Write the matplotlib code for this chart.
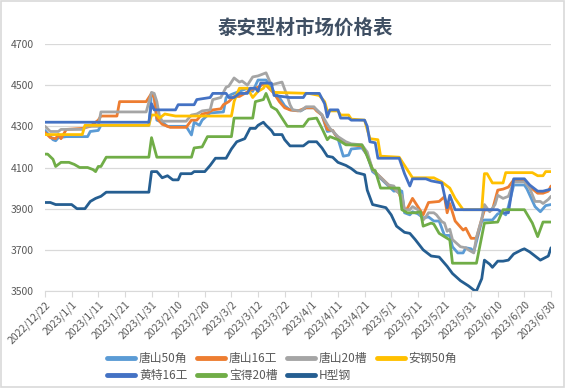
import matplotlib
matplotlib.use("Agg")
import matplotlib.pyplot as plt
import pandas as pd
from matplotlib.patches import Rectangle

plt.rcParams['font.family'] = ['Noto Sans CJK SC', 'DejaVu Sans']

start = pd.Timestamp('2022-12-22')
end = pd.Timestamp('2023-06-30')

# days counted from 2022/12/22, prices in yuan/ton
ts50_day = [0, 3, 4, 5, 8, 16, 17, 20, 21, 39, 40, 41, 42, 44, 46, 53, 55, 56, 58, 59,
            62, 67, 68, 70, 73, 76, 78, 80, 83, 85, 86, 88, 90, 92, 96, 98, 101, 102, 104, 106,
            108, 110, 112, 114, 115, 119, 121, 123, 125, 127, 129, 131, 133, 134, 135, 137, 138, 140, 142, 144,
            146, 148, 149, 150, 152, 153, 155, 157, 158, 160, 161, 164, 165, 168, 170, 172, 173, 174, 176, 180,
            181, 184, 186, 188, 190]
ts50_val = [4280, 4235, 4230, 4245, 4250, 4250, 4275, 4280, 4305, 4305, 4460, 4450, 4330, 4320, 4300, 4300, 4258, 4320, 4305, 4330,
            4365, 4370, 4440, 4455, 4470, 4485, 4470, 4525, 4525, 4490, 4465, 4440, 4400, 4380, 4375, 4390, 4390, 4380, 4355, 4275,
            4280, 4240, 4155, 4160, 4190, 4195, 4160, 4080, 4060, 4035, 4010, 3985, 3990, 3985, 3880, 3870, 3885, 3875, 3855, 3860,
            3840, 3840, 3805, 3770, 3770, 3715, 3685, 3685, 3710, 3705, 3690, 3840, 3845, 3845, 3875, 3880, 3870, 3910, 4015, 4015,
            3995, 3910, 3885, 3915, 3920]

ts16_day = [0, 2, 4, 5, 6, 8, 14, 17, 20, 21, 27, 28, 38, 40, 41, 42, 44, 47, 53, 55,
            57, 59, 61, 63, 66, 67, 69, 71, 73, 77, 80, 82, 83, 86, 88, 90, 92, 95, 98, 101,
            102, 104, 106, 108, 109, 111, 113, 115, 119, 121, 123, 125, 127, 129, 131, 133, 135, 136, 138, 140,
            142, 144, 148, 150, 151, 152, 154, 157, 158, 160, 162, 164, 165, 168, 170, 172, 174, 176, 180, 182,
            185, 187, 189, 190]
ts16_val = [4270, 4245, 4240, 4260, 4240, 4285, 4290, 4300, 4330, 4350, 4350, 4420, 4420, 4460, 4440, 4340, 4310, 4295, 4295, 4330,
            4330, 4360, 4365, 4380, 4385, 4405, 4420, 4445, 4445, 4475, 4490, 4505, 4500, 4460, 4420, 4390, 4380, 4375, 4390, 4390,
            4375, 4355, 4285, 4280, 4260, 4235, 4215, 4210, 4205, 4160, 4090, 4065, 4040, 4015, 4000, 3975, 3895, 3900, 3950, 3910,
            3870, 3930, 3935, 3958, 3880, 3925, 3840, 3796, 3805, 3756, 3756, 3850, 3894, 3894, 3990, 3995, 4005, 4040, 4040, 4007,
            3975, 3975, 3985, 4010]

ts20_day = [0, 2, 5, 6, 14, 16, 20, 21, 38, 40, 41, 42, 43, 44, 53, 55, 57, 59, 62, 63,
            66, 68, 69, 71, 73, 74, 76, 78, 80, 83, 85, 86, 89, 91, 92, 93, 96, 98, 101, 102,
            104, 106, 107, 110, 113, 115, 119, 121, 123, 125, 127, 129, 131, 132, 134, 135, 137, 138, 140, 142,
            143, 144, 146, 147, 149, 150, 151, 152, 153, 156, 158, 159, 161, 162, 164, 165, 167, 169, 170, 172,
            174, 176, 180, 182, 184, 186, 187, 189, 190]
ts20_val = [4300, 4275, 4275, 4285, 4285, 4300, 4300, 4370, 4370, 4465, 4460, 4420, 4350, 4325, 4325, 4355, 4360, 4375, 4380, 4430,
            4440, 4490, 4495, 4535, 4515, 4520, 4500, 4540, 4545, 4560, 4500, 4505, 4515, 4445, 4405, 4380, 4375, 4395, 4395, 4380,
            4355, 4310, 4290, 4250, 4225, 4215, 4210, 4175, 4090, 4065, 4040, 4015, 4010, 3985, 3965, 3895, 3895, 3910, 3895, 3845,
            3860, 3880, 3880, 3870, 3837, 3830, 3790, 3800, 3750, 3715, 3710, 3700, 3685, 3760, 3850, 3920, 3885, 3920, 3965, 3950,
            3960, 4030, 4030, 4000, 3935, 3935, 3925, 3945, 3960]

ag50_day = [0, 14, 15, 39, 40, 42, 43, 45, 49, 70, 71, 72, 73, 76, 78, 80, 82, 83, 86, 99,
            103, 105, 106, 110, 111, 114, 115, 120, 122, 125, 126, 133, 135, 138, 146, 149, 152, 154, 157, 164,
            165, 166, 168, 172, 173, 183, 185, 187, 188, 190]
ag50_val = [4260, 4260, 4305, 4305, 4355, 4355, 4340, 4360, 4350, 4350, 4420, 4455, 4485, 4485, 4440, 4470, 4485, 4505, 4465, 4460,
            4450, 4420, 4375, 4375, 4355, 4355, 4335, 4330, 4240, 4235, 4155, 4150, 4110, 4050, 4050, 4030, 4000, 3950, 3895, 3895,
            4070, 4070, 4025, 4025, 4075, 4075, 4060, 4060, 4080, 4080]

ht16_day = [0, 39, 40, 41, 49, 50, 56, 57, 62, 63, 68, 69, 71, 73, 76, 77, 79, 80, 81, 85,
            86, 92, 97, 98, 103, 105, 106, 107, 110, 111, 114, 115, 120, 121, 122, 124, 125, 133, 135, 137,
            138, 143, 145, 149, 151, 152, 154, 170, 172, 174, 176, 180, 182, 185, 187, 190]
ht16_val = [4320, 4320, 4410, 4380, 4380, 4405, 4405, 4430, 4440, 4460, 4460, 4440, 4440, 4460, 4460, 4485, 4485, 4470, 4510, 4510,
            4450, 4440, 4440, 4460, 4460, 4410, 4345, 4380, 4380, 4340, 4340, 4330, 4330, 4300, 4225, 4220, 4145, 4145, 4070, 4010,
            4045, 4045, 4035, 4025, 3905, 3965, 3895, 3895, 3880, 3880, 4045, 4045, 4015, 3985, 3985, 3995]

bd20_day = [0, 1, 3, 4, 6, 9, 11, 13, 16, 18, 19, 20, 21, 23, 39, 40, 42, 55, 56, 59,
            61, 70, 71, 78, 79, 82, 83, 85, 87, 89, 91, 97, 99, 102, 104, 106, 107, 110, 113, 119,
            120, 123, 124, 126, 133, 134, 136, 139, 141, 142, 145, 146, 148, 150, 152, 153, 162, 165, 170, 172,
            180, 183, 185, 187, 190]
bd20_val = [4165, 4165, 4140, 4105, 4125, 4125, 4115, 4100, 4100, 4090, 4080, 4105, 4105, 4150, 4150, 4245, 4150, 4150, 4195, 4200,
            4250, 4250, 4340, 4340, 4420, 4430, 4460, 4395, 4380, 4340, 4300, 4300, 4335, 4340, 4290, 4235, 4250, 4235, 4210, 4210,
            4185, 4090, 4085, 4000, 4000, 3895, 3880, 3880, 3885, 3815, 3830, 3825, 3780, 3764, 3748, 3635, 3635, 3830, 3835, 3895,
            3895, 3830, 3764, 3835, 3835]

hxg_day = [0, 2, 4, 10, 12, 15, 17, 19, 21, 23, 39, 40, 42, 44, 46, 48, 50, 51, 55, 56,
           60, 62, 64, 68, 70, 72, 75, 77, 79, 80, 82, 83, 85, 86, 89, 90, 92, 97, 99, 102,
           104, 106, 108, 110, 113, 115, 117, 120, 121, 123, 128, 130, 132, 135, 137, 139, 142, 145, 148, 151,
           153, 156, 159, 161, 162, 164, 165, 167, 168, 170, 172, 174, 176, 179, 180, 182, 186, 189, 190]
hxg_val = [3930, 3930, 3920, 3920, 3900, 3900, 3935, 3950, 3960, 3980, 3980, 4080, 4080, 4050, 4060, 4040, 4040, 4070, 4070, 4080,
           4080, 4110, 4145, 4145, 4190, 4225, 4240, 4290, 4290, 4305, 4320, 4305, 4280, 4260, 4260, 4235, 4205, 4205, 4225, 4225,
           4195, 4155, 4150, 4125, 4110, 4095, 4075, 4065, 3990, 3920, 3905, 3870, 3815, 3785, 3780, 3750, 3700, 3670, 3665, 3620,
           3585, 3550, 3525, 3505, 3500, 3560, 3650, 3630, 3615, 3645, 3645, 3650, 3680, 3700, 3705, 3690, 3650, 3670, 3710]

names = ['唐山50角', '唐山16工', '唐山20槽', '安钢50角', '黄特16工', '宝得20槽', 'H型钢']
colors = ['#5B9BD5', '#ED7D31', '#A5A5A5', '#FFC000', '#4472C4', '#70AD47', '#255E91']
series = [(ts50_day, ts50_val), (ts16_day, ts16_val), (ts20_day, ts20_val), (ag50_day, ag50_val),
          (ht16_day, ht16_val), (bd20_day, bd20_val), (hxg_day, hxg_val)]

fig = plt.figure(figsize=(5.65, 3.88), dpi=100)
ax = fig.add_axes([45 / 565, 1 - 291 / 388, 506 / 565, 247 / 388])

lines = []
for name, color, (d, v) in zip(names, colors, series):
    x = start + pd.to_timedelta(d, unit='D')
    ln, = ax.plot(x, v, color=color, lw=2.0, label=name, solid_capstyle='round')
    lines.append(ln)

ax.set_xlim(start, end)
ax.set_ylim(3500, 4700)
ax.set_yticks(range(3500, 4701, 200))
ax.grid(axis='y', color='#D9D9D9', lw=0.9)
ax.set_axisbelow(True)

ticks = pd.date_range(start, end, freq='10D')
ax.set_xticks(ticks)
ax.set_xticklabels([f"{t.year}/{t.month}/{t.day}" for t in ticks], rotation=45,
                   ha='right', rotation_mode='anchor', fontsize=7.5, color='#595959')
ax.tick_params(axis='x', length=4, color='#D9D9D9', pad=2)
ax.tick_params(axis='y', length=0, labelsize=7.5, labelcolor='#595959', pad=8)

for s in ['top', 'right', 'left']:
    ax.spines[s].set_visible(False)
ax.spines['bottom'].set_color('#D9D9D9')

fig.text(305 / 565, 1 - 28 / 388, '泰安型材市场价格表', ha='center', va='center',
         fontsize=14, fontweight='bold', color='#3F4F63')

order = [0, 4, 1, 5, 2, 6, 3]
leg = fig.legend([lines[i] for i in order], [names[i] for i in order], ncol=4,
                 loc='center', bbox_to_anchor=(282 / 565, 1 - 367 / 388), frameon=False,
                 fontsize=8.5, handlelength=2.4, handletextpad=0.3, columnspacing=0.8,
                 labelspacing=0.3)
for t in leg.get_texts():
    t.set_color('#595959')
for h in leg.legend_handles:
    h.set_linewidth(3.5)

fig.patches.append(Rectangle((0.002, 0.003), 0.996, 0.994, transform=fig.transFigure,
                             fill=False, edgecolor='#D9D9D9', lw=1.2))

fig.savefig('out.png', dpi=100)
